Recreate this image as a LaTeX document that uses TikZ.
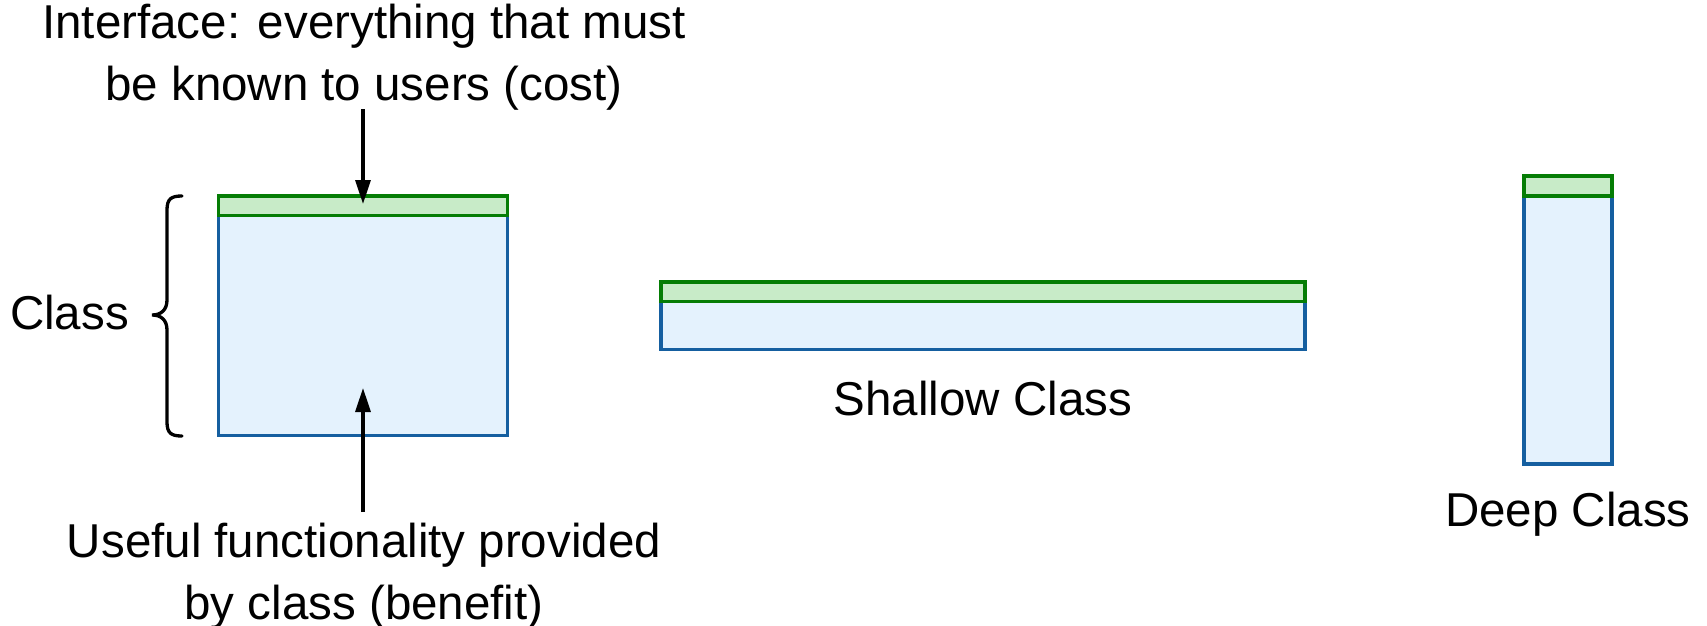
\documentclass[tikz,border=0pt]{standalone}
\usepackage{fontspec}
\setmainfont{Liberation Sans}
\usetikzlibrary{arrows.meta}
\definecolor{ifline}{RGB}{5,125,5}
\definecolor{iffill}{RGB}{200,235,200}
\definecolor{bdline}{RGB}{21,95,160}
\definecolor{bdfill}{RGB}{228,242,253}
\tikzset{
  body/.style={rectangle, draw=bdline, fill=bdfill, line width=3.3pt, inner sep=0pt, outer sep=0pt, anchor=north west},
  iface/.style={rectangle, draw=ifline, fill=iffill, line width=3.3pt, inner sep=0pt, outer sep=0pt, anchor=north west},
  lbl/.style={inner sep=0pt, align=center, font=\fontsize{47.5}{62}\selectfont},
  pointer/.style={line width=3.3pt, -{Triangle[length=24pt,width=15pt]}},
  brace/.style={line width=3.3pt, line cap=round}
}
\begin{document}
\begin{tikzpicture}[x=1pt,y=-1pt]
\useasboundingbox (0,0) rectangle (1707,626);
% big class
\node[body, minimum width=289pt, minimum height=220pt] (bigbody) at (218.5,215.5) {};
\node[iface, minimum width=289pt, minimum height=19.5pt] (bigif) at (218.5,196) {};
% shallow class
\node[body, minimum width=644pt, minimum height=48pt] (shbody) at (661,301.5) {};
\node[iface, minimum width=644pt, minimum height=19.5pt] (shif) at (661,282) {};
% deep class
\node[body, minimum width=88pt, minimum height=268pt] (dpbody) at (1524,196) {};
\node[iface, minimum width=88pt, minimum height=20pt] (dpif) at (1524,176) {};
% labels
\node[lbl] (iflbl) at (364,57) {Interface: everything that must\\be known to users (cost)};
\node[lbl] (fnlbl) at (364,576) {Useful functionality provided\\by class (benefit)};
\node[lbl] (classlbl) at (69.5,313) {Class};
\node[lbl] (shlbl) at (983,399) {Shallow Class};
\node[lbl] (dplbl) at (1568,514) {Deep Class};
% arrows
\coordinate (ifstart) at (363,109);
\coordinate (iftip) at (363,204);
\coordinate (fnstart) at (363,512);
\coordinate (fntip) at (363,388);
\draw[pointer] (ifstart) -- (iftip);
\draw[pointer] (fnstart) -- (fntip);
% brace
\coordinate (btop) at (182,196);
\coordinate (btip) at (152,315);
\coordinate (bbot) at (182,436);
\draw[brace] (btop) .. controls (171,196) and (167,199) .. (167,210) -- (167,300)
  .. controls (167,310) and (161,315) .. (btip)
  .. controls (161,315) and (167,320) .. (167,330) -- (167,422)
  .. controls (167,433) and (171,436) .. (bbot);
\end{tikzpicture}
\end{document}
